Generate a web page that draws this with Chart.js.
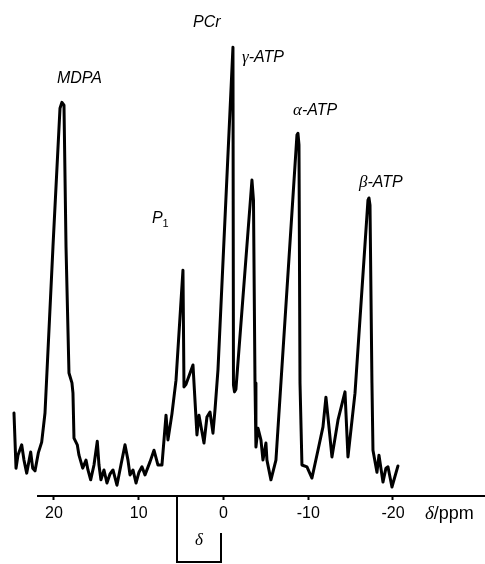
<!DOCTYPE html>
<html lang="en">
<head>
<meta charset="UTF-8">
<title>31P NMR spectrum</title>
<style>
  html, body { margin: 0; padding: 0; background: #fff; }
  canvas { display: block; }
</style>
</head>
<body>
<canvas id="chartId" width="485" height="564"></canvas>
<script src="https://cdn.jsdelivr.net/npm/chart.js@4/dist/chart.umd.min.js"></script>
<script>
// chemical shift (ppm) of each traced point, left to right
const shifts = [
  24.72, 24.48, 24.25, 23.81, 23.54, 23.22, 22.75, 22.51, 22.24, 21.85,
  21.45, 21.06, 20.12, 19.29, 19.06, 18.82, 18.58, 18.23, 17.88, 17.76,
  17.64, 17.25, 17.05, 16.61, 16.22, 15.99, 15.67, 15.28, 14.89, 14.69,
  14.46, 14.10, 13.75, 13.39, 13.04, 12.57, 12.10, 11.62, 11.27, 11.03,
  10.68, 10.32, 9.97, 9.62, 9.26, 8.67, 8.20, 7.73, 7.26, 6.78,
  6.55, 6.08, 5.60, 4.78, 4.66, 4.42, 3.60, 3.13, 2.89, 2.30,
  1.95, 1.59, 1.24, 1.00, 0.65, -1.12, -1.18, -1.30, -1.47, -3.36,
  -3.54, -3.72, -3.83, -4.07, -4.42, -4.66, -5.01, -5.13, -5.60, -6.19,
  -8.67, -8.79, -8.91, -9.03, -9.26, -9.85, -10.44, -11.15, -11.74, -12.09,
  -12.33, -12.80, -13.51, -14.34, -14.69, -15.52, -17.05, -17.17, -17.29, -17.52,
  -17.64, -18.11, -18.35, -18.82, -19.17, -19.41, -19.88, -20.59
];
// signal intensity (a.u., PCr = 100)
const intensities = [
  18.5, 6.2, 9.1, 11.4, 8.0, 5.1, 9.8, 6.2, 5.6, 9.6,
  12.0, 18.5, 55.5, 86.4, 87.7, 87.1, 55.5, 27.4, 25.2, 22.9,
  12.9, 11.4, 9.1, 6.2, 8.0, 5.8, 3.6, 6.9, 12.2, 6.9,
  3.6, 5.8, 2.9, 4.9, 5.8, 2.4, 6.9, 11.4, 8.0, 4.7,
  5.8, 2.9, 5.3, 6.5, 4.7, 7.6, 10.2, 6.9, 6.9, 18.0,
  12.5, 18.3, 25.8, 50.3, 24.3, 24.9, 29.2, 13.6, 18.0, 11.8,
  17.6, 18.7, 14.0, 19.2, 28.1, 100.0, 24.7, 23.2, 23.8, 70.4,
  65.9, 25.2, 10.9, 15.1, 12.5, 8.0, 11.8, 8.0, 3.6, 8.0,
  80.4, 80.8, 78.2, 25.2, 6.9, 6.5, 4.0, 10.2, 15.4, 22.0,
  17.6, 8.7, 16.9, 23.2, 8.7, 22.9, 65.9, 66.4, 64.8, 25.2,
  10.2, 5.3, 9.1, 3.1, 6.2, 6.5, 2.0, 6.7
];
const tickValues = [20, 10, 0, -10, -20];
const axisTitle = 'δ/ppm';

const SANS = '"Liberation Sans", Arial, sans-serif';
const SERIF = '"Liberation Serif", "Times New Roman", serif';

// peak labels: runs of text, anchored at [ppm, intensity] of the baseline start
const peakLabels = [
  { at: [19.65, 92.0], runs: [['MDPA', 'italic 16px ' + SANS]] },
  { at: [8.44, 60.8], runs: [['P', 'italic 16px ' + SANS], ['1', '11px ' + SANS, 4]] },
  { at: [3.60, 104.4], runs: [['PCr', 'italic 16px ' + SANS]] },
  { at: [-2.18, 96.7], runs: [['γ', 'italic 17px ' + SERIF], ['-ATP', 'italic 16px ' + SANS]] },
  { at: [-8.20, 84.9], runs: [['α', 'italic 17px ' + SERIF], ['-ATP', 'italic 16px ' + SANS]] },
  { at: [-15.99, 68.8], runs: [['β', 'italic 17px ' + SERIF], ['-ATP', 'italic 16px ' + SANS]] }
];

function drawRuns(ctx, x, y, runs) {
  runs.forEach(([text, font, dy]) => {
    ctx.font = font;
    ctx.fillText(text, x, y + (dy || 0));
    x += ctx.measureText(text).width;
  });
}

const annotate = {
  id: 'annotate',
  afterDraw(chart) {
    const ctx = chart.ctx;
    const xs = chart.scales.x, ys = chart.scales.y;
    const base = xs.top;
    ctx.save();
    ctx.strokeStyle = '#000';
    ctx.fillStyle = '#000';
    ctx.lineWidth = 2;
    ctx.textBaseline = 'alphabetic';
    ctx.textAlign = 'left';

    // ppm axis line
    ctx.beginPath();
    ctx.moveTo(xs.getPixelForValue(22.0), base);
    ctx.lineTo(chart.width, base);
    ctx.stroke();

    // bracket marking the shift range
    const bl = Math.round(xs.getPixelForValue(5.5)), br = Math.round(xs.getPixelForValue(0.3));
    ctx.beginPath();
    ctx.moveTo(bl, base);
    ctx.lineTo(bl, base + 66);
    ctx.lineTo(br, base + 66);
    ctx.lineTo(br, base + 37);
    ctx.stroke();
    ctx.font = 'italic 17px ' + SERIF;
    ctx.fillText('δ', xs.getPixelForValue(3.36), base + 49);

    // axis title
    drawRuns(ctx, xs.getPixelForValue(-23.78), base + 23,
      [[axisTitle.slice(0, 1), 'italic 19px ' + SERIF], [axisTitle.slice(1), '18px ' + SANS]]);

    peakLabels.forEach(l => {
      drawRuns(ctx, xs.getPixelForValue(l.at[0]), ys.getPixelForValue(l.at[1]), l.runs);
    });
    ctx.restore();
  }
};

const ctx = document.getElementById('chartId').getContext('2d');
const spectrum = new Chart(ctx, {
  type: 'line',
  data: {
    datasets: [{
      data: shifts.map((s, i) => ({ x: s, y: intensities[i] })),
      borderColor: '#000',
      borderWidth: 3,
      borderJoinStyle: 'round',
      borderCapStyle: 'round',
      pointRadius: 0,
      tension: 0,
      fill: false
    }]
  },
  options: {
    responsive: false,
    animation: false,
    layout: { padding: 0 },
    plugins: { legend: { display: false }, tooltip: { enabled: false } },
    scales: {
      x: {
        type: 'linear',
        reverse: true,
        min: -30.86,
        max: 26.37,
        afterFit: s => { s.height = 68; },
        afterBuildTicks: s => { s.ticks = tickValues.map(v => ({ value: v })); },
        border: { display: false },
        grid: { drawOnChartArea: false, drawTicks: true, tickLength: 4, tickWidth: 2, tickColor: '#000' },
        ticks: {
          color: '#000',
          font: { family: SANS, size: 16 },
          padding: 4,
          autoSkip: false,
          maxRotation: 0,
          callback: v => String(v)
        }
      },
      y: { display: false, min: 0, max: 110.5 }
    }
  },
  plugins: [annotate]
});
</script>
</body>
</html>
